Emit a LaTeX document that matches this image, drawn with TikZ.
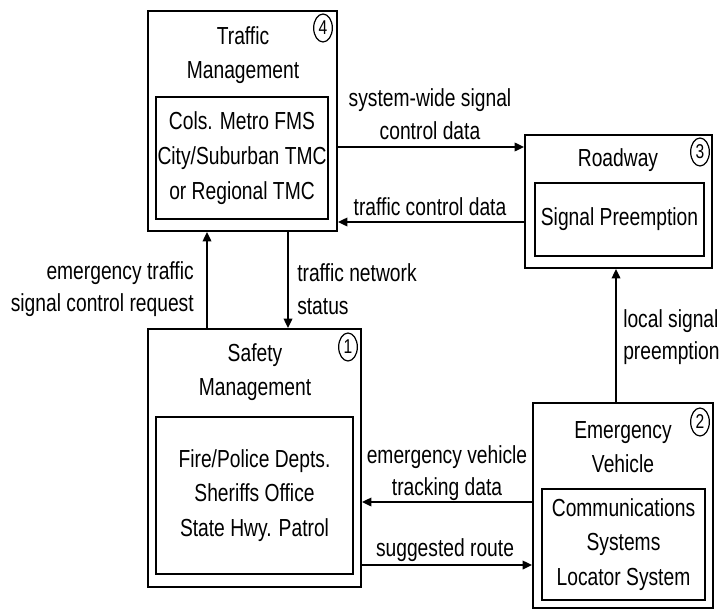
\documentclass[tikz,border=0pt]{standalone}
\usepackage{fontspec}
\setmainfont[FakeStretch=0.78]{Liberation Sans}
\usetikzlibrary{arrows.meta, shapes.geometric}

\tikzset{
  outer/.style={draw, line width=1.6pt, inner sep=0pt},
  inner/.style={draw, line width=1.5pt, inner sep=0pt, align=center},
  title/.style={align=center, inner sep=0pt},
  num/.style={ellipse, draw, line width=0.9pt, inner sep=0pt,
    minimum width=14pt, minimum height=21pt, font=\fontsize{15}{15}\selectfont},
  lbl/.style={align=center, inner sep=0pt, font=\fontsize{18.5}{24.5}\selectfont},
  flow/.style={line width=1.2pt, -{Triangle[length=7pt,width=6.5pt]}},
}

\begin{document}
\begin{tikzpicture}[x=0.75pt, y=-0.75pt, font=\fontsize{18.5}{26}\selectfont]
  \useasboundingbox (0,0) rectangle (721,610);

  % traffic management
  \node[outer, minimum width=141.75pt, minimum height=165pt] (tm) at (242.5,121) {};
  \node[title] (tmt) at (243,55) {Traffic\\Management};
  \node[inner, minimum width=129pt, minimum height=91.5pt] (tmi) at (242,158)
    {Cols. Metro FMS\\City/Suburban TMC\\or Regional TMC};
  \node[num] (n4) at (323,28) {4};

  % roadway
  \node[outer, minimum width=140.25pt, minimum height=99.75pt] (rw) at (618.5,201.5) {};
  \node[title] (rwt) at (618,160) {Roadway};
  \node[inner, minimum width=126.75pt, minimum height=54.75pt] (rwi) at (619.5,219.5)
    {Signal Preemption};
  \node[num] (n3) at (700,152) {3};

  % safety management
  \node[outer, minimum width=159.75pt, minimum height=193.5pt] (sm) at (254.5,458) {};
  \node[title] (smt) at (255,372) {Safety\\Management};
  \node[inner, minimum width=147.75pt, minimum height=117.75pt] (smi) at (254.5,495.5)
    {Fire/Police Depts.\\Sheriffs Office\\State Hwy. Patrol};
  \node[num] (n1) at (348,347) {1};

  % emergency vehicle
  \node[outer, minimum width=135pt, minimum height=153.75pt] (ev) at (623,505.5) {};
  \node[title] (evt) at (623,447) {Emergency\\Vehicle};
  \node[inner, minimum width=122.25pt, minimum height=83.25pt] (evi) at (623.5,544.5)
    {Communications\\Systems\\Locator System};
  \node[num] (n2) at (700,422) {2};

  % flows
  \draw[flow] (tm.east |- 0,147) -- (rw.west |- 0,147);
  \draw[flow] (rw.west |- 0,222) -- (tm.east |- 0,222);
  \draw[flow] (sm.north -| 207,0) -- (tm.south -| 207,0);
  \draw[flow] (tm.south -| 288,0) -- (sm.north -| 288,0);
  \draw[flow] (ev.north -| 616,0) -- (rw.south -| 616,0);
  \draw[flow] (ev.west |- 0,502) -- (sm.east |- 0,502);
  \draw[flow] (sm.east |- 0,565) -- (ev.west |- 0,565);

  % flow labels
  \node[lbl] (swl) at (430,114) {system-wide signal\\control data};
  \node[lbl] (tcl) at (430,207) {traffic control data};
  \node[lbl, align=right, anchor=east] (etl) at (194,289)
    {emergency traffic\\signal control request};
  \node[lbl, align=left, anchor=west] (tnl) at (297,289) {traffic network\\status};
  \node[lbl, align=left, anchor=west] (lsl) at (623,337) {local signal\\preemption};
  \node[lbl] (evl) at (447,473) {emergency vehicle\\tracking data};
  \node[lbl] (srl) at (445,550) {suggested route};
\end{tikzpicture}
\end{document}
